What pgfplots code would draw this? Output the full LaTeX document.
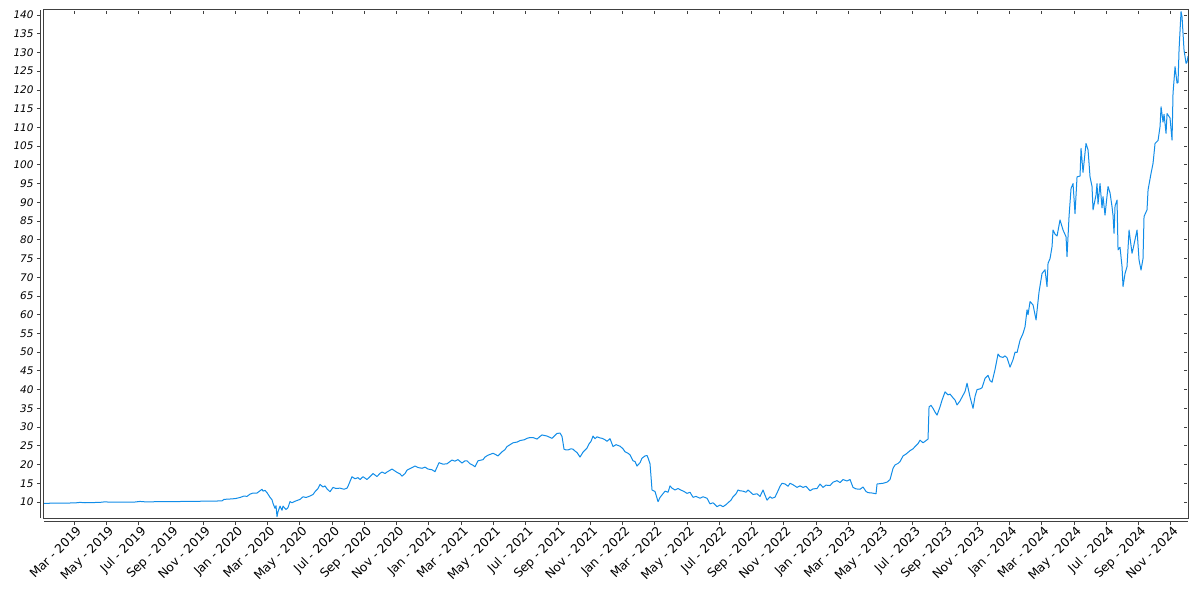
\documentclass[border=0pt]{standalone}
\usepackage{fontspec}
\setmainfont{DejaVu Sans}
\usepackage{pgfplots}
\usepackage{pgfplotstable}
\pgfplotsset{compat=1.18}
\definecolor{serie}{RGB}{17,141,232}
\definecolor{frame}{RGB}{64,64,64}

% t = horizontal reading position, v = value
\pgfplotstableread{
t v
44 9.65
60 9.7
75 9.75
80 9.9
85 9.8
100 9.9
105 10.05
110 9.95
135 10.0
140 10.15
145 10.05
170 10.1
200 10.2
215 10.25
222 10.3
224 10.7
230 10.8
235 10.9
240 11.2
244 11.6
247 11.5
250 12.1
253 12.4
257 12.4
260 13.0
262 13.4
263 12.9
265 13.1
267 12.5
270 11.25
272 10.6
273 9.65
275 8.3
276 9.0
277 6.1
278 7.4
280 8.9
282 7.8
283 8.9
286 8.0
288 8.5
290 10.1
292 9.8
295 10.2
298 10.5
300 10.7
303 11.4
306 11.2
310 11.6
313 12.0
315 12.75
318 13.6
320 14.7
323 14.0
325 14.3
327 13.5
330 12.75
333 13.9
336 13.6
340 13.7
344 13.4
347 13.7
348 14.2
350 15.5
352 16.75
355 16.2
358 16.5
360 16.0
363 16.75
367 16.0
370 16.8
373 17.6
377 16.8
380 17.65
382 18.0
385 17.6
387 18.0
392 18.8
397 17.9
400 17.5
402 16.9
405 17.6
407 18.5
410 18.9
415 19.6
418 19.2
422 19.0
425 19.3
428 18.8
432 18.6
435 18.1
439 20.5
443 20.1
447 20.2
452 21.2
455 20.9
458 21.3
462 20.4
465 21.0
467 21.0
470 20.2
473 19.8
475 19.4
478 21.0
483 21.3
485 22.0
488 22.5
493 23.0
496 22.6
498 22.3
502 23.4
505 24.0
507 24.8
510 25.3
513 25.8
517 26.0
520 26.4
524 26.6
527 27.0
530 27.2
533 27.2
537 26.8
540 27.5
542 27.9
547 27.6
552 27.0
555 27.8
557 28.3
560 28.4
562 27.5
564 24.1
566 23.9
568 23.9
571 24.2
573 24.1
575 23.6
577 23.2
580 22.0
583 23.3
587 24.4
589 25.5
591 26.2
593 27.6
595 26.9
597 27.4
600 27.1
602 27.0
605 26.6
607 26.2
610 26.9
613 24.8
616 25.3
620 24.9
623 24.2
625 23.4
628 23.0
630 22.6
633 21.0
635 20.8
637 19.6
640 20.5
642 21.7
645 22.3
647 22.4
648 21.8
650 20.2
651 16.75
652 13.2
655 12.8
658 10.1
660 11.2
662 11.9
665 12.9
668 12.6
670 14.3
672 13.7
675 13.2
678 13.6
680 13.3
684 12.8
687 12.3
690 12.6
693 11.25
696 11.5
700 11.0
703 11.4
707 11.0
710 9.5
713 9.8
717 8.75
720 9.2
723 8.75
726 9.3
728 9.8
731 10.5
733 11.4
736 12.2
738 13.2
740 13.0
743 12.9
746 12.6
748 13.2
751 12.5
753 12.0
757 12.2
760 11.5
763 13.2
765 11.8
767 10.5
770 11.4
772 11.0
775 11.3
778 13.0
780 14.2
782 15.0
785 14.8
788 14.2
790 15.0
793 14.6
797 13.9
800 14.3
803 13.9
806 14.2
810 13.0
813 13.5
817 13.6
820 14.8
823 13.9
826 14.5
830 14.4
833 15.3
837 15.7
840 15.2
843 16.0
847 15.6
850 16.0
853 13.9
856 13.5
860 13.4
863 14.0
866 12.8
868 12.5
872 12.4
876 12.2
877 14.8
880 14.9
883 15.0
887 15.3
890 16.0
893 19.0
895 19.9
898 20.3
900 20.8
903 22.3
906 22.8
910 23.7
913 24.2
915 24.8
918 25.6
920 26.5
923 25.8
925 26.2
928 26.8
929 35.4
931 35.8
933 35.0
935 34.0
937 33.2
940 35.4
942 37.2
945 39.4
948 38.6
950 38.8
953 37.8
955 37.2
957 35.9
960 37.0
962 38.0
965 39.5
967 41.7
970 38.0
973 35.0
975 38.2
977 40.0
980 40.2
982 40.5
985 43.0
988 43.8
990 42.4
992 42.0
995 45.4
998 49.5
1000 48.8
1003 48.6
1005 49.0
1007 48.5
1010 46.0
1013 48.0
1015 50.0
1017 49.9
1020 53.2
1023 55.0
1025 56.8
1027 61.3
1028 60.0
1030 63.5
1033 62.6
1036 58.6
1039 66.1
1042 71.0
1045 72.0
1047 67.5
1048 73.7
1050 75.0
1052 78.2
1053 82.6
1055 81.5
1057 81.0
1060 85.3
1063 82.6
1066 80.8
1067 75.5
1069 86.2
1071 93.7
1073 95.0
1075 87.0
1077 96.8
1080 97.0
1081 104.4
1083 98.0
1086 105.7
1088 104.0
1090 96.8
1092 94.2
1093 88.0
1096 92.0
1097 95.0
1098 89.5
1100 95.0
1102 88.5
1103 91.5
1105 86.6
1108 94.2
1110 92.5
1112 88.8
1113 86.5
1114 81.7
1115 89.0
1117 90.6
1118 77.3
1120 78.0
1122 72.8
1123 67.5
1125 71.0
1127 72.8
1129 82.6
1132 76.4
1133 77.5
1137 82.6
1139 74.6
1141 71.9
1143 75.0
1144 86.2
1147 88.0
1148 93.3
1151 97.7
1153 100.4
1155 105.7
1158 106.5
1160 110.2
1161 115.5
1163 111.4
1164 113.5
1166 108.4
1167 113.7
1170 112.5
1172 106.6
1173 119.1
1175 126.2
1177 121.8
1178 122.0
1179 130.6
1181 140.9
1182 139.5
1184 130.6
1186 127.1
1187 127.4
1188 129.0
}\datatable

\begin{document}
\begin{tikzpicture}
\useasboundingbox[fill=white] (0,0) rectangle (1200bp,600bp);
\begin{axis}[
  name=ax,
  at={(44bp,82bp)}, anchor=south west,
  scale only axis, width=1144bp, height=508bp,
  xmin=0.140, xmax=71.063, ymin=5.73, ymax=141.33,
  xtick={2,4,...,70},
  xticklabels={Mar - 2019, May - 2019, Jul - 2019, Sep - 2019, Nov - 2019,
    Jan - 2020, Mar - 2020, May - 2020, Jul - 2020, Sep - 2020, Nov - 2020,
    Jan - 2021, Mar - 2021, May - 2021, Jul - 2021, Sep - 2021, Nov - 2021,
    Jan - 2022, Mar - 2022, May - 2022, Jul - 2022, Sep - 2022, Nov - 2022,
    Jan - 2023, Mar - 2023, May - 2023, Jul - 2023, Sep - 2023, Nov - 2023,
    Jan - 2024, Mar - 2024, May - 2024, Jul - 2024, Sep - 2024, Nov - 2024},
  ytick={10,15,...,140},
  axis line style={frame, line width=1bp},
  tick align=outside, major tick length=3bp,
  every tick/.style={frame, line width=0.8bp},
  every x tick/.append style={yshift=-4bp},
  every y tick/.append style={xshift=-4bp},
  /pgf/number format/assume math mode=true,
  xticklabel style={font=\fontsize{12.3}{14}\selectfont, rotate=45, anchor=north east, yshift=-3bp, xshift=-1bp, inner sep=1bp},
  yticklabel style={font=\fontsize{10.5}{12}\selectfont\itshape, xshift=-4bp},
]
\addplot[serie, line width=1bp, line join=round] table[x expr=(\thisrow{t}-41.74)/16.13, y=v] {\datatable};
\end{axis}
\draw[frame, line width=1bp] ([xshift=-4bp]ax.south west) -- ([xshift=-4bp]ax.north west);
\draw[frame, line width=1bp] ([yshift=-4bp]ax.south west) -- ([yshift=-4bp]ax.south east);
\end{tikzpicture}
\end{document}
